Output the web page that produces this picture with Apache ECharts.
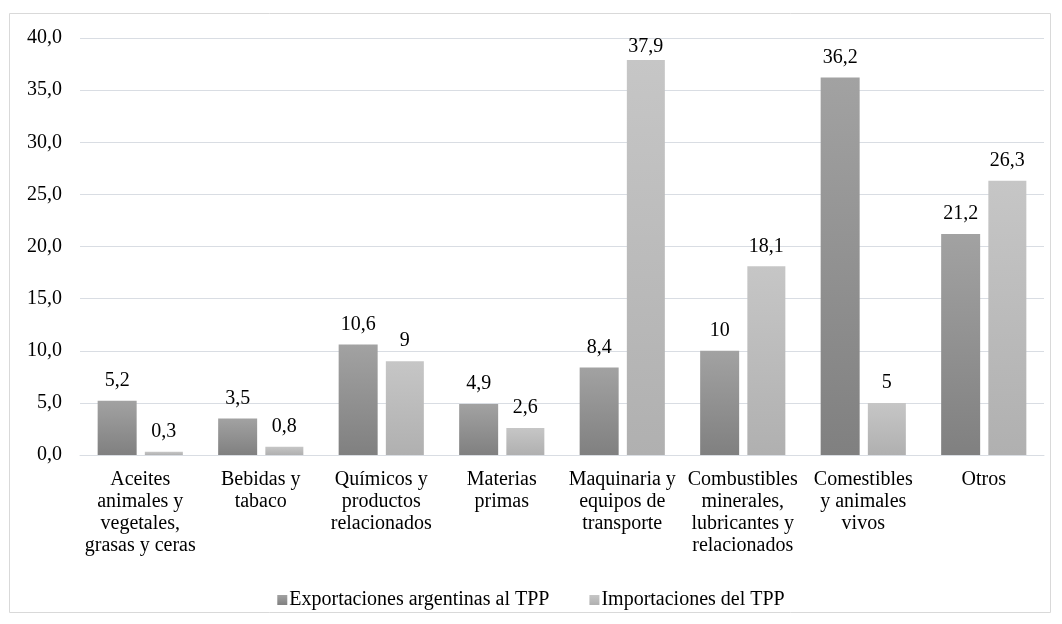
<!DOCTYPE html>
<html><head><meta charset="utf-8">
<script src="https://cdn.jsdelivr.net/npm/echarts@6/dist/echarts.min.js"></script>
<style>html,body{margin:0;padding:0;background:#fff}#c{width:1062px;height:624px}</style>
</head><body><div id="c"></div>
<script>
const categories = ["Aceites\nanimales y\nvegetales,\ngrasas y ceras","Bebidas y\ntabaco","Químicos y\nproductos\nrelacionados","Materias\nprimas","Maquinaria y\nequipos de\ntransporte","Combustibles\nminerales,\nlubricantes y\nrelacionados","Comestibles\ny animales\nvivos","Otros"];
const exportaciones = [5.2, 3.5, 10.6, 4.9, 8.4, 10, 36.2, 21.2];
const importaciones = [0.3, 0.8, 9, 2.6, 37.9, 18.1, 5, 26.3];
const seriesNames = ["Exportaciones argentinas al TPP", "Importaciones del TPP"];

const font = "'Liberation Serif', 'Times New Roman', serif";
const FS = 20;
const grad = (a, b) => new echarts.graphic.LinearGradient(0, 0, 0, 1, [{offset: 0, color: a}, {offset: 1, color: b}]);
const fmt = v => String(v).replace('.', ',');
// labels near the top edge of the plot sit closer to their bar
const withLabelFit = arr => arr.map(v => v > 37 ? {value: v, label: {distance: 3}} : v);
const chart = echarts.init(document.getElementById('c'), null, {renderer: 'canvas'});
chart.setOption({
  animation: false,
  graphic: [{type: 'rect', shape: {x: 9.5, y: 13.5, width: 1041, height: 599}, style: {fill: 'none', stroke: '#d9d9d9', lineWidth: 1}}],
  grid: {left: 80, right: 18, top: 38, bottom: 169},
  legend: {
    bottom: 9, left: 'center', itemWidth: 10, itemHeight: 10, itemGap: 40, icon: 'rect',
    textStyle: {fontFamily: font, fontSize: FS, color: '#000', padding: [0, 0, 0, -3]},
    data: seriesNames
  },
  xAxis: {
    type: 'category', data: categories,
    axisLine: {show: true, lineStyle: {color: '#d9dde3'}}, axisTick: {show: false},
    axisLabel: {fontFamily: font, fontSize: FS, color: '#000', lineHeight: 22, margin: 14, interval: 0}
  },
  yAxis: {
    type: 'value', min: 0, max: 40, interval: 5,
    axisLine: {show: false}, axisTick: {show: false},
    splitLine: {lineStyle: {color: '#d9dde3', width: 1}},
    axisLabel: {fontFamily: font, fontSize: FS, color: '#000', margin: 18, formatter: v => v.toFixed(1).replace('.', ',')}
  },
  series: [
    {name: seriesNames[0], type: 'bar', data: withLabelFit(exportaciones), barWidth: 39, barGap: '21%',
     itemStyle: {color: grad('#a2a2a2', '#808080')},
     label: {show: true, position: 'top', distance: 10, fontFamily: font, fontSize: FS, color: '#000', formatter: p => fmt(p.value)}},
    {name: seriesNames[1], type: 'bar', data: withLabelFit(importaciones), barWidth: 38,
     itemStyle: {color: grad('#c6c6c6', '#b0b0b0')},
     label: {show: true, position: 'top', distance: 10, fontFamily: font, fontSize: FS, color: '#000', formatter: p => fmt(p.value)}}
  ]
});
</script></body></html>
